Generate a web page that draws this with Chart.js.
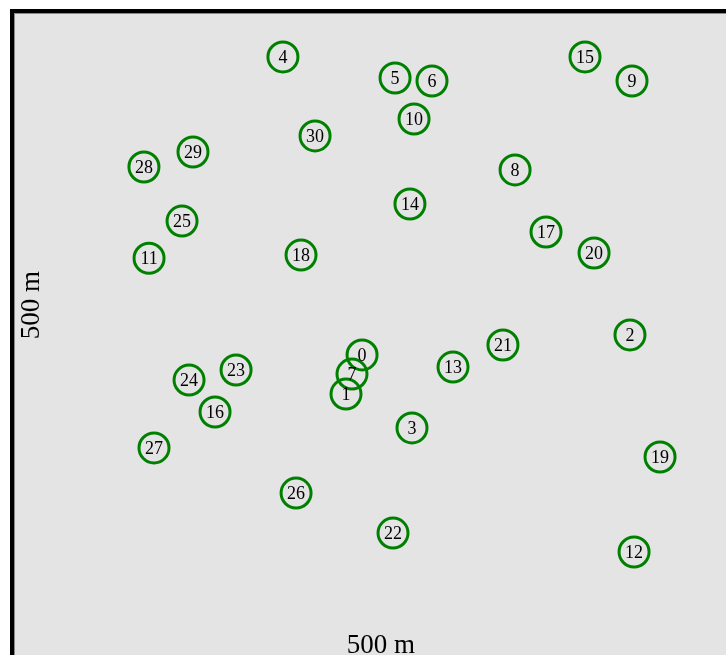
<!DOCTYPE html>
<html>
<head>
<meta charset="utf-8">
<script src="https://cdn.jsdelivr.net/npm/chart.js@4"></script>
<style>
  html, body { margin: 0; padding: 0; background: #fff; }
  canvas { display: block; }
</style>
</head>
<body>
<canvas id="mapa" width="726" height="655"></canvas>
<script>
// node ids and positions in metres (origin = top-left corner of the field)
const nodeIds = [0, 1, 2, 3, 4, 5, 6, 7, 8, 9, 10, 11, 12, 13, 14, 15, 16, 17, 18, 19, 20, 21, 22, 23, 24, 25, 26, 27, 28, 29, 30];
const nodeX = [238.4, 227.4, 421.9, 272.6, 184.2, 261.0, 286.3, 231.5, 343.2, 423.3, 274.0, 92.5, 424.7, 300.7, 271.2, 391.1, 137.7, 364.4, 196.6, 442.5, 397.3, 334.9, 259.6, 152.1, 119.9, 115.1, 193.2, 95.9, 89.0, 122.6, 206.2];
const nodeY = [234.2, 261.0, 220.5, 284.2, 30.1, 44.5, 46.6, 247.3, 107.5, 46.6, 72.6, 168.0, 369.2, 242.5, 130.8, 30.1, 273.3, 150.0, 165.8, 304.1, 164.4, 227.4, 356.2, 244.5, 251.4, 142.5, 328.8, 297.9, 105.5, 95.2, 84.2];
const fieldSize = 500;
const axisLabel = '500 m';

const GREEN = '#008000';
const SERIF = "'Liberation Serif', 'Times New Roman', serif";

// field background + border
const fieldPlugin = {
  id: 'field',
  beforeDatasetsDraw(chart) {
    const { ctx, scales: { x, y } } = chart;
    const x0 = x.getPixelForValue(0), x1 = x.getPixelForValue(fieldSize);
    const y0 = y.getPixelForValue(0), y1 = y.getPixelForValue(fieldSize);
    ctx.save();
    ctx.fillStyle = '#e4e4e4';
    ctx.fillRect(x0, y0, x1 - x0, y1 - y0);
    ctx.strokeStyle = '#8a8a8a';
    ctx.lineWidth = 1;
    ctx.strokeRect(x0 + 0.5, y0 + 0.5, x1 - x0, y1 - y0);
    ctx.strokeStyle = '#000';
    ctx.lineWidth = 4;
    ctx.strokeRect(x0 - 2, y0 - 2, x1 - x0 + 4, y1 - y0 + 4);
    ctx.restore();
  }
};

// numbers in circles + axis texts
const labelPlugin = {
  id: 'labels',
  afterDatasetsDraw(chart) {
    const { ctx, scales: { x } } = chart;
    const meta = chart.getDatasetMeta(0);
    ctx.save();
    ctx.fillStyle = '#000';
    ctx.font = '18px ' + SERIF;
    ctx.textAlign = 'center';
    ctx.textBaseline = 'middle';
    meta.data.forEach((pt, i) => {
      ctx.fillText(String(nodeIds[i]), pt.x, pt.y + 1);
    });
    ctx.font = '27px ' + SERIF;
    ctx.textBaseline = 'alphabetic';
    ctx.fillText(axisLabel, x.getPixelForValue(fieldSize / 2) + 2, 653);
    ctx.translate(39, 305);
    ctx.rotate(-Math.PI / 2);
    ctx.fillText(axisLabel, 0, 0);
    ctx.restore();
  }
};

const k = 1.46; // px per metre
new Chart(document.getElementById('mapa'), {
  type: 'scatter',
  data: {
    datasets: [{
      data: nodeX.map((v, i) => ({ x: v, y: nodeY[i] })),
      pointRadius: 15,
      pointHoverRadius: 15,
      pointBorderWidth: 3,
      pointBorderColor: GREEN,
      pointBackgroundColor: 'rgba(0,0,0,0)',
    }]
  },
  options: {
    responsive: false,
    animation: false,
    events: [],
    layout: { padding: 0, autoPadding: false },
    plugins: { legend: { display: false }, tooltip: { enabled: false } },
    scales: {
      x: { type: 'linear', display: false, min: -14 / k, max: (726 - 14) / k },
      y: { type: 'linear', display: false, reverse: true, min: -13 / k, max: (655 - 13) / k }
    }
  },
  plugins: [fieldPlugin, labelPlugin]
});
</script>
</body>
</html>
